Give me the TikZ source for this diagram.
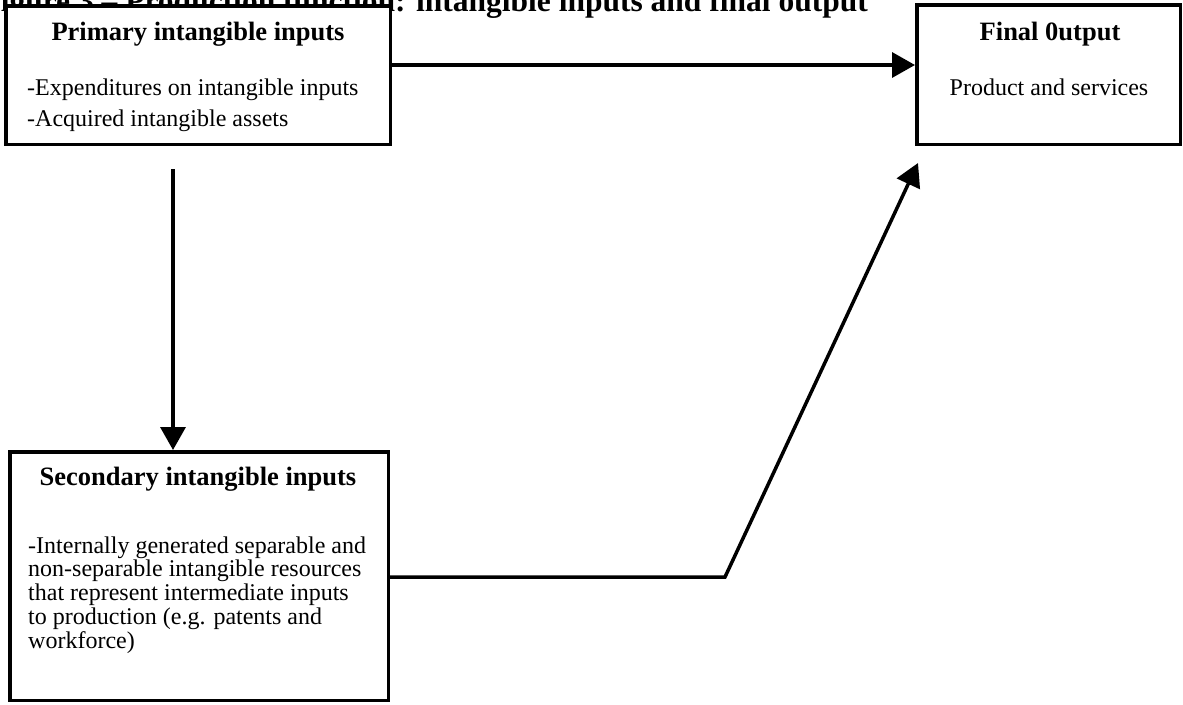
\documentclass[tikz,border=0pt]{standalone}
\usepackage{fontspec}
\setmainfont{Liberation Serif}
\usetikzlibrary{arrows.meta}
\begin{document}
\begin{tikzpicture}[x=1pt,y=-1pt,
  box/.style={draw, fill=white, line width=3.5pt, rectangle, inner sep=0pt},
  heading/.style={font=\fontsize{26.5}{30}\selectfont\bfseries, inner sep=0pt, anchor=base},
  body/.style={inner sep=0pt, anchor=base west},
  link/.style={line width=3.5pt},
  arrowlink/.style={link, -{Triangle[length=23pt,width=25pt]}}
]
\useasboundingbox (0,0) rectangle (1183,704);

% caption line, partly hidden by the first box
\begin{scope}
  \clip (0,0) rectangle (1183,704);
  \node[font=\fontsize{31.5}{36}\selectfont\bfseries, inner sep=0pt, anchor=base east]
    (title) at (868,12) {Figure 3 – Production function: intangible inputs and final output};
\end{scope}

% boxes
\node[box, minimum width=384.5pt, minimum height=138.5pt] (prim) at (198,75) {};
\node[box, minimum width=263.5pt, minimum height=139.5pt] (fin) at (1048.5,74.5) {};
\node[box, minimum width=378.5pt, minimum height=248.5pt] (sec) at (199,576) {};

% box texts
\node[heading] (primhead) at (198,40) {Primary intangible inputs};
\node[body] (primtext) at (27,95.5) {\fontsize{24}{30.5}\selectfont
  \begin{tabular}[t]{@{}l@{}}
  -Expenditures on intangible inputs\\
  -Acquired intangible assets
  \end{tabular}};

\node[heading] (finhead) at (1050,40) {Final 0utput};
\node[body, anchor=base] (fintext) at (1049,95.5) {\fontsize{24}{28}\selectfont Product and services};

\node[heading] (sechead) at (198,485) {Secondary intangible inputs};
\node[body] (sectext) at (28,553) {\fontsize{24}{23.5}\selectfont
  \begin{tabular}[t]{@{}l@{}}
  -Internally generated separable and\\
  non-separable intangible resources\\
  that represent intermediate inputs\\
  to production (e.g. patents and\\
  workforce)
  \end{tabular}};

% connectors
\draw[arrowlink] ([yshift=10pt]prim.east) -- ([yshift=9.5pt]fin.west);

\coordinate (vtop) at (173,169);
\draw[arrowlink] (vtop) -- (vtop |- sec.north);

\coordinate (bend) at (725,577);
\coordinate (tip) at (918,163);
\draw[arrowlink] (sec.east |- bend) -- (bend) -- (tip);
\end{tikzpicture}
\end{document}
